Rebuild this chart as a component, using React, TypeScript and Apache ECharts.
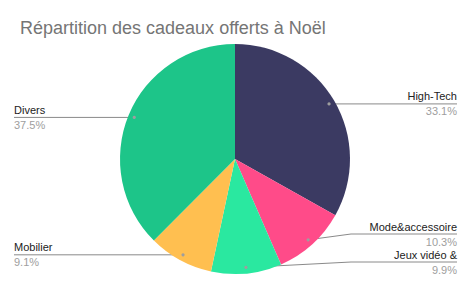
import React, { useEffect, useRef } from "react";
import * as echarts from "echarts";

const titleText = "Répartition des cadeaux offerts à Noël";
const categories = ["High-Tech", "Mode&accessoire", "Jeux vidéo &", "Mobilier", "Divers"];
const values = [33.1, 10.3, 9.9, 9.1, 37.5];
const colors = ["#3b3a62", "#ff4b89", "#2ae8a0", "#ffbf50", "#1dc589"];

const W = 471;
const H = 291;
const CX = 235;
const CY = 159;
const R = 115;
const DOT_R = R - 6;
const LABEL_GAP = 28;
const BOTTOM_LIMIT = H - 29;

function computeDots() {
  const total = values.reduce((a, b) => a + b, 0);
  let acc = 0;
  return values.map((v) => {
    const mid = (acc + v / 2) / total;
    acc += v;
    const a = mid * 2 * Math.PI;
    return { x: CX + DOT_R * Math.sin(a), y: CY - DOT_R * Math.cos(a), right: Math.sin(a) > 0 };
  });
}

function computeLabelYs(dots: { x: number; y: number; right: boolean }[]) {
  const ys: number[] = dots.map((d) => d.y);
  [true, false].forEach((side) => {
    const idx = dots.map((d, i) => i).filter((i) => dots[i].right === side);
    idx.sort((a, b) => dots[b].y - dots[a].y);
    let cap = BOTTOM_LIMIT;
    idx.forEach((i) => {
      const y = Math.min(dots[i].y, cap);
      ys[i] = y;
      cap = y - LABEL_GAP;
    });
  });
  return ys;
}

export default function App() {
  const ref = useRef<HTMLDivElement>(null);
  useEffect(() => {
    document.body.style.margin = "0";
    if (!ref.current) return;
    const chart = echarts.init(ref.current, undefined, { renderer: "svg" });
    const dots = computeDots();
    const labelYs = computeLabelYs(dots);
    chart.setOption({
      animation: false,
      title: {
        text: titleText,
        left: 15,
        top: 14,
        textStyle: { fontFamily: "Arial, 'Liberation Sans', sans-serif", fontSize: 18, fontWeight: "normal", color: "#757575" },
      },
      graphic: dots.map((d) => ({
        type: "circle",
        z: 100,
        shape: { cx: d.x, cy: d.y, r: 1.6 },
        style: { fill: "#9e9e9e" },
      })),
      series: [
        {
          type: "pie",
          center: [CX, CY],
          radius: R,
          startAngle: 90,
          clockwise: true,
          data: categories.map((c, i) => ({ name: c, value: values[i], itemStyle: { color: colors[i] } })),
          itemStyle: { borderWidth: 0 },
          emphasis: { disabled: true },
          label: {
            show: true,
            position: "outside",
            alignTo: "edge",
            edgeDistance: 14,
            fontFamily: "Arial, 'Liberation Sans', sans-serif",
            formatter: (p: any) => `{n|${p.name}}\n{p|${p.value}%}`,
            rich: {
              n: { fontSize: 11, color: "#222222", lineHeight: 15, fontFamily: "Arial, 'Liberation Sans', sans-serif" },
              p: { fontSize: 11, color: "#9e9e9e", lineHeight: 15, fontFamily: "Arial, 'Liberation Sans', sans-serif" },
            },
          },
          labelLine: {
            show: true,
            length: 2,
            length2: 2,
            lineStyle: { color: "#8a8a8a", width: 1 },
          },
          labelLayout: (params: any) => {
            const i = params.dataIndex;
            const d = dots[i];
            const rect = params.labelRect;
            const y = labelYs[i];
            const bendX = d.right ? CX + R + 1 : CX - R - 1;
            const endX = d.right ? rect.x + rect.width : rect.x;
            return {
              y,
              labelLinePoints: [
                [d.x, d.y],
                [bendX, y],
                [endX, y],
              ],
            };
          },
        },
      ],
    });
    return () => chart.dispose();
  }, []);
  return <div ref={ref} style={{ width: W, height: H }} />;
}
